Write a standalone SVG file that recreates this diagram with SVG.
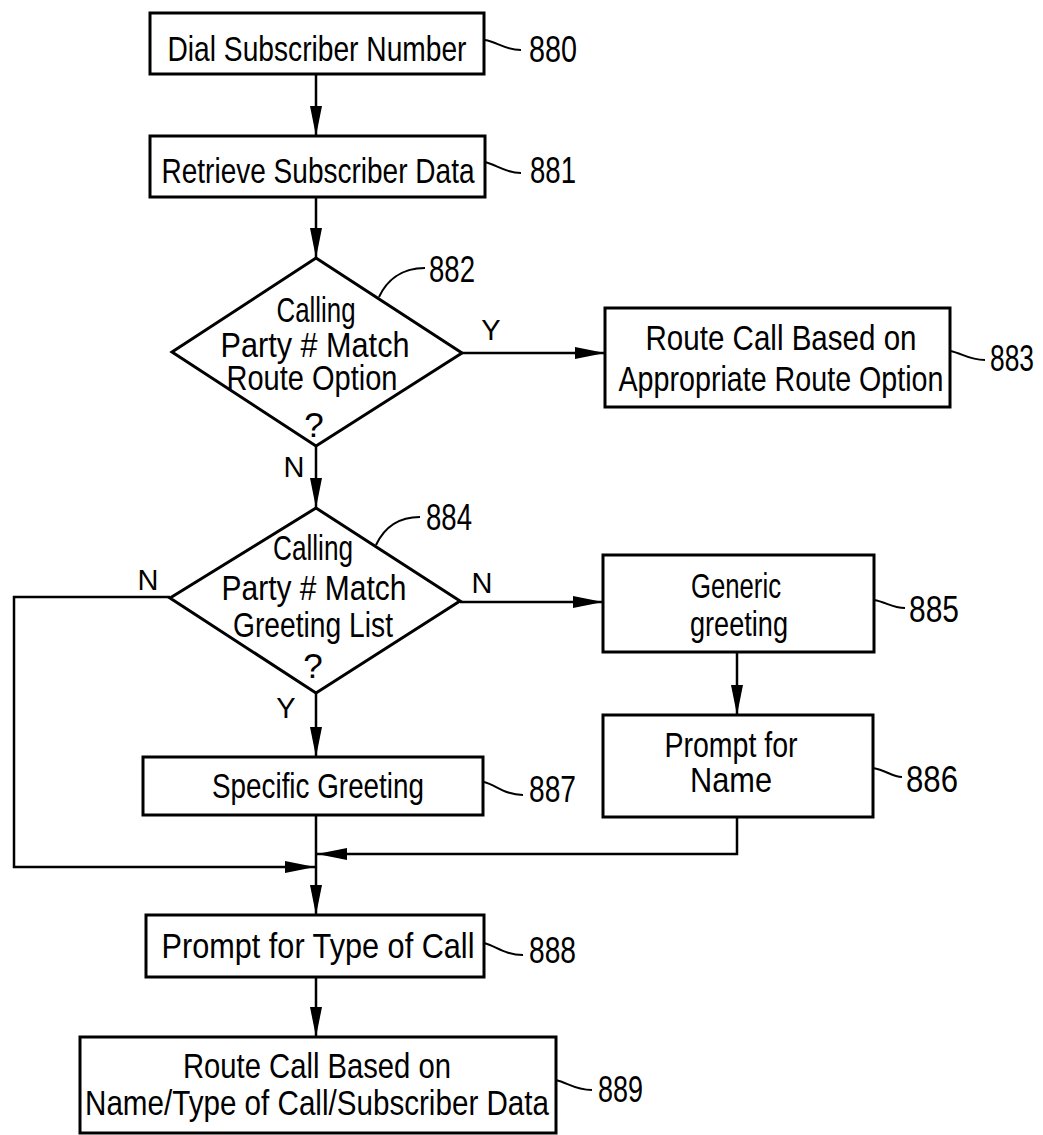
<svg xmlns="http://www.w3.org/2000/svg" width="1043" height="1135" viewBox="0 0 1043 1135">
<style>
.box{fill:#fff;stroke:#000;stroke-width:3}
.t{font-family:"Liberation Sans",Arial,sans-serif;font-size:35px;fill:#000;text-anchor:middle}
.lbl{font-family:"Liberation Sans",Arial,sans-serif;font-size:36px;fill:#000}
.yn{font-family:"Liberation Sans",Arial,sans-serif;font-size:29px;fill:#000;text-anchor:middle}
.c{fill:none;stroke:#000;stroke-width:2.5}
.ld{fill:none;stroke:#000;stroke-width:2}
</style>
<defs>
<marker id="ah" markerUnits="userSpaceOnUse" markerWidth="30" markerHeight="12" refX="30" refY="6" orient="auto">
<path d="M0,0 L30,6 L0,12 Z" fill="#000"/>
</marker>
</defs>
<rect width="1043" height="1135" fill="#fff"/>

<g id="connectors">
<path class="c" d="M316,74 V136" marker-end="url(#ah)"/>
<path class="c" d="M316,197 V258" marker-end="url(#ah)"/>
<path class="c" d="M462,353 H605" marker-end="url(#ah)"/>
<path class="c" d="M316,446 V508" marker-end="url(#ah)"/>
<path class="c" d="M460,602 H603" marker-end="url(#ah)"/>
<path class="c" d="M737,652 V715" marker-end="url(#ah)"/>
<path class="c" d="M316,693 V757" marker-end="url(#ah)"/>
<path class="c" d="M170,597 H14 V867 H315" marker-end="url(#ah)"/>
<path class="c" d="M737,817 V854 H317" marker-end="url(#ah)"/>
<path class="c" d="M316,815 V915" marker-end="url(#ah)"/>
<path class="c" d="M316,977 V1037" marker-end="url(#ah)"/>
<text class="yn" x="491" y="340">Y</text>
<text class="yn" x="294" y="477">N</text>
<text class="yn" x="148" y="590">N</text>
<text class="yn" x="482" y="593">N</text>
<text class="yn" x="286" y="718">Y</text>
</g>

<g id="n880">
<rect class="box" x="150" y="13" width="334" height="61"/>
<text class="t" x="317" y="61" textLength="299" lengthAdjust="spacingAndGlyphs">Dial Subscriber Number</text>
<path class="ld" d="M485,40 C497,42 505,50 521,50"/>
<text class="lbl" x="529" y="62" textLength="48" lengthAdjust="spacingAndGlyphs">880</text>
</g>

<g id="n881">
<rect class="box" x="150" y="136" width="335" height="61"/>
<text class="t" x="318" y="183" textLength="313" lengthAdjust="spacingAndGlyphs">Retrieve Subscriber Data</text>
<path class="ld" d="M485,162 C497,165 505,173 521,173"/>
<text class="lbl" x="530" y="183" textLength="46" lengthAdjust="spacingAndGlyphs">881</text>
</g>

<g id="n882">
<polygon class="box" points="316,258 462,353 316,446 172,352"/>
<text class="t" x="316" y="322" textLength="79" lengthAdjust="spacingAndGlyphs">Calling</text>
<text class="t" x="315" y="357" textLength="189" lengthAdjust="spacingAndGlyphs">Party # Match</text>
<text class="t" x="312" y="390" textLength="171" lengthAdjust="spacingAndGlyphs">Route Option</text>
<text class="t" x="314" y="437">?</text>
<path class="ld" d="M379,297 C386,282 400,268 425,268"/>
<text class="lbl" x="429" y="282" textLength="46" lengthAdjust="spacingAndGlyphs">882</text>
</g>

<g id="n883">
<rect class="box" x="605" y="308" width="345" height="99"/>
<text class="t" x="781" y="350" textLength="271" lengthAdjust="spacingAndGlyphs">Route Call Based on</text>
<text class="t" x="781" y="391" textLength="325" lengthAdjust="spacingAndGlyphs">Appropriate Route Option</text>
<path class="ld" d="M950,351 C962,353 968,360 985,360"/>
<text class="lbl" x="990" y="371" textLength="44" lengthAdjust="spacingAndGlyphs">883</text>
</g>

<g id="n884">
<polygon class="box" points="316,508 460,601 316,693 170,598"/>
<text class="t" x="313" y="560" textLength="80" lengthAdjust="spacingAndGlyphs">Calling</text>
<text class="t" x="314" y="600" textLength="185" lengthAdjust="spacingAndGlyphs">Party # Match</text>
<text class="t" x="313" y="637" textLength="160" lengthAdjust="spacingAndGlyphs">Greeting List</text>
<text class="t" x="313" y="678">?</text>
<path class="ld" d="M376,545 C384,528 398,517 420,517"/>
<text class="lbl" x="426" y="530" textLength="46" lengthAdjust="spacingAndGlyphs">884</text>
</g>

<g id="n885">
<rect class="box" x="603" y="555" width="271" height="97"/>
<text class="t" x="736" y="598" textLength="90" lengthAdjust="spacingAndGlyphs">Generic</text>
<text class="t" x="739" y="636" textLength="98" lengthAdjust="spacingAndGlyphs">greeting</text>
<path class="ld" d="M874,600 C886,602 892,608 905,608"/>
<text class="lbl" x="909" y="622" textLength="50" lengthAdjust="spacingAndGlyphs">885</text>
</g>

<g id="n886">
<rect class="box" x="603" y="715" width="270" height="102"/>
<text class="t" x="731" y="757" textLength="133" lengthAdjust="spacingAndGlyphs">Prompt for</text>
<text class="t" x="731" y="792" textLength="82" lengthAdjust="spacingAndGlyphs">Name</text>
<path class="ld" d="M873,768 C886,770 892,777 902,777"/>
<text class="lbl" x="906" y="792" textLength="52" lengthAdjust="spacingAndGlyphs">886</text>
</g>

<g id="n887">
<rect class="box" x="143" y="757" width="340" height="58"/>
<text class="t" x="318" y="798" textLength="212" lengthAdjust="spacingAndGlyphs">Specific Greeting</text>
<path class="ld" d="M484,782 C496,785 505,795 523,795"/>
<text class="lbl" x="529" y="802" textLength="47" lengthAdjust="spacingAndGlyphs">887</text>
</g>

<g id="n888">
<rect class="box" x="146" y="915" width="338" height="62"/>
<text class="t" x="318" y="958" textLength="313" lengthAdjust="spacingAndGlyphs">Prompt for Type of Call</text>
<path class="ld" d="M484,943 C496,946 505,955 523,955"/>
<text class="lbl" x="529" y="963" textLength="47" lengthAdjust="spacingAndGlyphs">888</text>
</g>

<g id="n889">
<rect class="box" x="80" y="1037" width="476" height="96"/>
<text class="t" x="317" y="1078" textLength="268" lengthAdjust="spacingAndGlyphs">Route Call Based on</text>
<text class="t" x="317" y="1115" textLength="464" lengthAdjust="spacingAndGlyphs">Name/Type of Call/Subscriber Data</text>
<path class="ld" d="M556,1080 C568,1083 575,1090 592,1090"/>
<text class="lbl" x="598" y="1102" textLength="45" lengthAdjust="spacingAndGlyphs">889</text>
</g>
</svg>
